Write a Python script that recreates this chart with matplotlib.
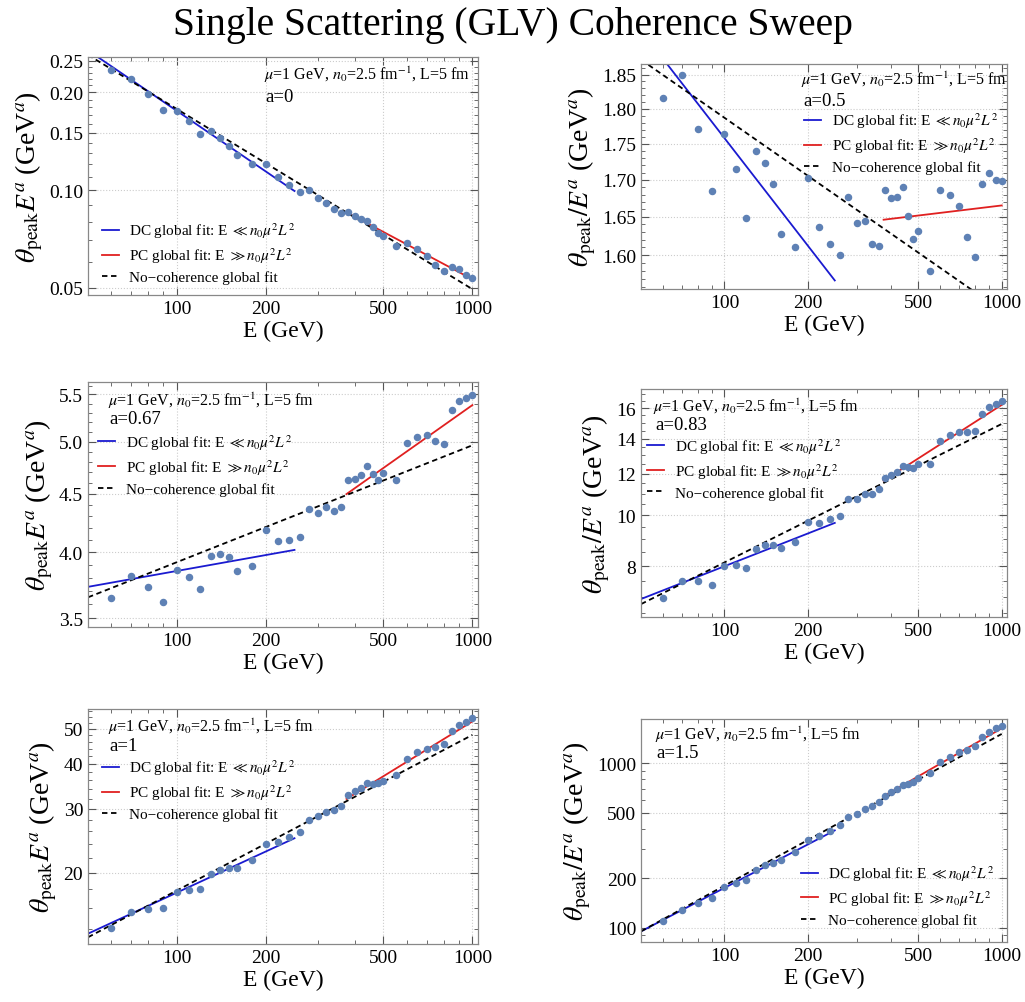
import numpy as np
import matplotlib
matplotlib.use("Agg")
import matplotlib.pyplot as plt
from matplotlib.ticker import FixedLocator, FuncFormatter, NullFormatter, MultipleLocator, LogLocator

plt.rcParams['font.family'] = ['Liberation Serif', 'DejaVu Serif']
plt.rcParams['mathtext.fontset'] = 'stix'

# энергии (ГэВ), общие для всех панелей
energies = [60, 70, 80, 90, 100, 110, 120, 130, 140, 150, 160,
            180, 200, 220, 240, 260, 280, 300, 320, 340, 360, 380, 400,
            420, 440, 460, 480, 500,
            550, 600, 650, 700, 750, 800, 850, 900, 950, 1000]

# значения
theta_a0 = [0.2348, 0.2203, 0.1981, 0.1769, 0.1757, 0.1629, 0.1493, 0.1518, 0.1448, 0.1365, 0.1281,
            0.1199, 0.1199, 0.1096, 0.1033, 0.0988, 0.1000, 0.0947, 0.0914, 0.0877, 0.0848, 0.0858, 0.0834,
            0.0813, 0.0802, 0.0767, 0.0736, 0.0722,
            0.0673, 0.0689, 0.0657, 0.0627, 0.0587, 0.0565, 0.0578, 0.0571, 0.0547, 0.0534]
theta_a05 = [1.816, 1.850, 1.771, 1.685, 1.764, 1.715, 1.648, 1.740, 1.723, 1.694, 1.627,
             1.611, 1.702, 1.636, 1.615, 1.600, 1.677, 1.642, 1.644, 1.615, 1.612, 1.686, 1.675,
             1.676, 1.690, 1.651, 1.621, 1.632,
             1.580, 1.686, 1.680, 1.665, 1.624, 1.597, 1.694, 1.709, 1.700, 1.699]
theta_a067 = [3.646, 3.811, 3.728, 3.617, 3.862, 3.806, 3.716, 3.973, 3.986, 3.960, 3.853,
              3.894, 4.187, 4.092, 4.098, 4.123, 4.365, 4.326, 4.379, 4.350, 4.386, 4.630, 4.636,
              4.677, 4.756, 4.683, 4.626, 4.692,
              4.630, 4.984, 5.046, 5.069, 5.009, 4.975, 5.334, 5.432, 5.457, 5.494]
theta_a083 = [6.97, 7.51, 7.48, 7.38, 8.02, 8.05, 7.95, 8.61, 8.76, 8.76, 8.65,
              8.91, 9.70, 9.65, 9.82, 9.96, 10.72, 10.75, 10.96, 10.99, 11.20, 11.77, 11.91,
              12.09, 12.41, 12.35, 12.28, 12.50,
              12.53, 13.84, 14.19, 14.44, 14.39, 14.46, 15.61, 16.08, 16.32, 16.51]
theta_a1 = [14.04, 15.53, 15.87, 15.94, 17.66, 17.93, 18.01, 19.79, 20.30, 20.65, 20.56,
            21.66, 24.00, 24.26, 25.11, 25.83, 28.00, 28.60, 29.41, 29.79, 30.63, 32.88, 33.60,
            34.33, 35.45, 35.22, 35.45, 35.84,
            37.17, 41.19, 43.00, 43.94, 44.60, 45.37, 49.43, 51.37, 52.15, 53.62]
theta_a15 = [109.7, 129.1, 141.7, 152.0, 177.2, 188.3, 196.3, 225.7, 242.0, 248.9, 259.5,
             288.8, 339.9, 359.4, 389.0, 419.0, 470.7, 493.2, 526.3, 551.4, 577.6, 631.0, 664.1,
             698.9, 739.1, 753.0, 767.1, 811.2,
             869.7, 1014, 1087.5, 1166, 1204, 1279, 1438, 1541, 1630, 1692]

a_labels = ["a=0", "a=0.5", "a=0.67", "a=0.83", "a=1", "a=1.5"]

# степенные фиты: (значение при E=100 ГэВ, показатель)
dc_fits = [(0.1753, -0.620), (1.758, -0.125), (3.852, 0.0463), (7.996, 0.2075), (17.62, 0.3775), (174.8, 0.878)]
pc_fits = [(0.1619, -0.484), (1.621, 0.0117), (3.532, 0.183), (7.435, 0.339), (16.45, 0.503), (174.7, 0.970)]
nc_fits = [(0.1776, -0.5547), (1.787, -0.0674), (3.921, 0.1024), (8.131, 0.2638), (17.86, 0.430), (180.3, 0.922)]
dc_range = (50, 250)
pc_range = (375, 1000)
nc_range = (50, 1000)

y_ticks = [[0.05, 0.10, 0.15, 0.20, 0.25],
           [1.60, 1.65, 1.70, 1.75, 1.80, 1.85],
           [3.5, 4.0, 4.5, 5.0, 5.5],
           [8, 10, 12, 14, 16],
           [20, 30, 40, 50],
           [100, 200, 500, 1000]]
y_fmt = ["{:.2f}", "{:.2f}", "{:.1f}", "{:.0f}", "{:.0f}", "{:.0f}"]
y_minor = [0.01, 0.01, 0.1, 0.5, 2, None]
y_lims = [(0.0475, 0.257), (1.557, 1.866), (3.44, 5.64), (6.40, 17.4), (12.7, 56.7), (82, 1857)]
x_ticks = [100, 200, 500, 1000]

datasets = [theta_a0, theta_a05, theta_a067, theta_a083, theta_a1, theta_a15]

W, H = 1025, 1003
# рамки осей в пикселях: left, right, top, bottom
boxes = [(88, 478, 58, 296), (641, 1007, 65, 290),
         (88, 478, 383, 628), (641, 1007, 390, 618),
         (88, 478, 710, 945), (641, 1007, 720, 943)]
text_pos = [(0.45, 0.97, 0.87), (0.438, 0.98, 0.875),
            (0.05, 0.97, 0.885), (0.033, 0.97, 0.88),
            (0.05, 0.97, 0.88), (0.038, 0.98, 0.89)]
legend_pos = [('lower left', (0.02, 0.02)), ('upper left', (0.43, 0.82)),
              ('upper left', (0.01, 0.82)), ('upper left', (0.0, 0.82)),
              ('upper left', (0.02, 0.82)), ('lower left', (0.42, 0.04))]

dot_color = '#5e81b5'
blue = '#1a1ad0'
red = '#e02020'

fig = plt.figure(figsize=(W / 100, H / 100), dpi=100)
fig.text(0.5, 0.993, "Single Scattering (GLV) Coherence Sweep", ha='center', va='top', fontsize=28.5)

for i in range(6):
    l, r, t, b = boxes[i]
    ax = fig.add_axes([l / W, 1 - b / H, (r - l) / W, (b - t) / H])
    ax.set_xscale('log')
    ax.set_yscale('log')

    ax.plot(energies, datasets[i], 'o', color=dot_color, ms=4.4, zorder=3)

    e_dc = np.geomspace(*dc_range, 50)
    e_pc = np.geomspace(*pc_range, 50)
    e_nc = np.geomspace(*nc_range, 100)
    ax.plot(e_dc, dc_fits[i][0] * (e_dc / 100) ** dc_fits[i][1], color=blue, lw=1.3,
            label=r"DC global fit: E $\ll n_0\mu^2L^2$")
    ax.plot(e_pc, pc_fits[i][0] * (e_pc / 100) ** pc_fits[i][1], color=red, lw=1.3,
            label=r"PC global fit: E $\gg n_0\mu^2L^2$")
    ax.plot(e_nc, nc_fits[i][0] * (e_nc / 100) ** nc_fits[i][1], color='black', lw=1.3,
            ls=(0, (3, 2)), label="No\u2212coherence global fit")

    ax.set_xlim(50, 1045)
    ax.set_ylim(*y_lims[i])

    ax.xaxis.set_major_locator(FixedLocator(x_ticks))
    ax.xaxis.set_major_formatter(FuncFormatter(lambda v, p: "{:.0f}".format(v)))
    ax.xaxis.set_minor_locator(LogLocator(subs=np.arange(2, 10)))
    ax.xaxis.set_minor_formatter(NullFormatter())

    ax.yaxis.set_major_locator(FixedLocator(y_ticks[i]))
    ax.yaxis.set_major_formatter(FuncFormatter(lambda v, p, f=y_fmt[i]: f.format(v)))
    if y_minor[i] is not None:
        ax.yaxis.set_minor_locator(MultipleLocator(y_minor[i]))
    else:
        ax.yaxis.set_minor_locator(LogLocator(subs=np.arange(2, 10)))
    ax.yaxis.set_minor_formatter(NullFormatter())

    ax.tick_params(which='both', direction='in', top=True, right=True, labelsize=14, color='#555555')
    ax.tick_params(which='major', length=6, width=0.8)
    ax.tick_params(which='minor', length=3, width=0.6)
    for s in ax.spines.values():
        s.set_color('#888888')
        s.set_linewidth(0.9)
    ax.grid(which='major', color='#cccccc', linestyle=':', linewidth=0.8)

    ax.set_xlabel("E (GeV)", fontsize=17, labelpad=2)
    if i % 2 == 0:
        ax.set_ylabel(r"$\theta_{\rm peak}E^a$ (GeV$^a$)", fontsize=20, labelpad=3)
    else:
        ax.set_ylabel(r"$\theta_{\rm peak}/E^a$ (GeV$^a$)", fontsize=20, labelpad=3)

    tx, ty1, ty2 = text_pos[i]
    ax.text(tx, ty1, r"$\mu$=1 GeV, $n_0$=2.5 fm$^{-1}$, L=5 fm", transform=ax.transAxes,
            ha='left', va='top', fontsize=11.5)
    ax.text(tx + 0.005, ty2, a_labels[i], transform=ax.transAxes, ha='left', va='top', fontsize=13.5)

    loc, anchor = legend_pos[i]
    ax.legend(loc=loc, bbox_to_anchor=anchor, frameon=False, fontsize=11, handlelength=1.1,
              handletextpad=0.7, labelspacing=0.35, borderaxespad=0)

fig.savefig("out.png", dpi=100)
